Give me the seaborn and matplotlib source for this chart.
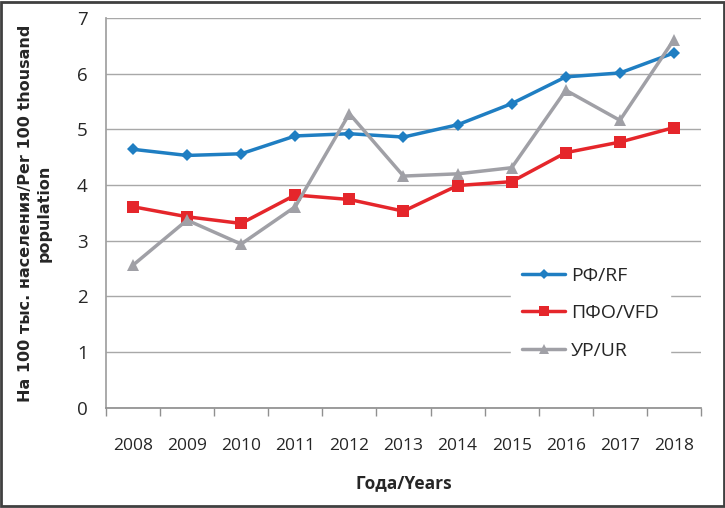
import matplotlib
matplotlib.use("Agg")
import matplotlib.pyplot as plt
import seaborn as sns
import pandas as pd
from matplotlib.patches import Rectangle
from matplotlib.ticker import FixedLocator

years = ["2008", "2009", "2010", "2011", "2012", "2013", "2014", "2015", "2016", "2017", "2018"]
rf = [4.64, 4.53, 4.56, 4.88, 4.92, 4.86, 5.08, 5.46, 5.94, 6.01, 6.37]
vfd = [3.61, 3.43, 3.31, 3.82, 3.74, 3.53, 3.99, 4.06, 4.58, 4.77, 5.03]
ur = [2.56, 3.37, 2.94, 3.61, 5.28, 4.16, 4.20, 4.31, 5.70, 5.16, 6.61]
series_names = ["РФ/RF", "ПФО/VFD", "УР/UR"]

sns.set_theme(style="white")
plt.rcParams['font.family'] = ['Open Sans', 'DejaVu Sans']

rows = []
for name, vals in zip(series_names, [rf, vfd, ur]):
    for i, v in enumerate(vals):
        rows.append({"idx": i, "value": v, "series": name})
df = pd.DataFrame(rows)

fig = plt.figure(figsize=(7.25, 5.08), dpi=100)
ax = fig.add_axes([0.146, 0.197, 0.821, 0.768])

palette = {"РФ/RF": "#1F7EC2", "ПФО/VFD": "#E5262B", "УР/UR": "#A0A0A6"}
markers = {"РФ/RF": "D", "ПФО/VFD": "s", "УР/UR": "^"}
sizes = {"РФ/RF": 6, "ПФО/VFD": 8, "УР/UR": 8}
for name in series_names:
    sub = df[df.series == name]
    sns.lineplot(data=sub, x="idx", y="value", ax=ax, color=palette[name],
                 marker=markers[name], markersize=sizes[name], linewidth=2.5,
                 markeredgewidth=0, label=name, zorder=3)

ax.set_xlim(-0.5, 10.5)
ax.set_ylim(0, 7)
ax.set_yticks(range(0, 8))
ax.set_xticks(range(len(years)))
ax.set_xticklabels(years)
ax.xaxis.set_minor_locator(FixedLocator([i - 0.5 for i in range(len(years) + 1)]))
ax.tick_params(axis='x', which='major', length=0, labelsize=12.5, pad=22)
ax.tick_params(axis='x', which='minor', length=6, color='#909090', width=1, direction='out', bottom=True)
ax.tick_params(axis='y', labelsize=13.5, length=6, color='#A8A8A8', width=1, direction='out', pad=7)
ax.yaxis.grid(True, color='#A8A8A8', linewidth=1)
ax.set_axisbelow(True)
for s in ['top', 'right']:
    ax.spines[s].set_visible(False)
ax.spines['left'].set_color('#A0A0A0')
ax.spines['bottom'].set_color('#909090')

ax.set_xlabel("Года/Years", fontsize=12.5, fontweight='bold', labelpad=14)
ax.set_ylabel("На 100 тыс. населения/Per 100 thousand\npopulation", fontsize=11.5,
              fontweight='bold', family=['DejaVu Sans'], labelpad=18, linespacing=1.35)

leg = ax.legend(loc='center left', bbox_to_anchor=(0.68, 0.243), frameon=True,
                fontsize=14, labelspacing=1.0, handlelength=2.2, handletextpad=0.3,
                borderpad=0.6, borderaxespad=0, markerscale=0.9)
leg.get_frame().set_facecolor('white')
leg.get_frame().set_edgecolor('white')
leg.get_frame().set_alpha(1)
leg.get_frame().set_boxstyle('square', pad=0)

fig.patches.append(Rectangle((0.002, 0.003), 0.996, 0.994, transform=fig.transFigure,
                             fill=False, edgecolor='#404040', linewidth=2))

fig.savefig("out.png", dpi=100)
